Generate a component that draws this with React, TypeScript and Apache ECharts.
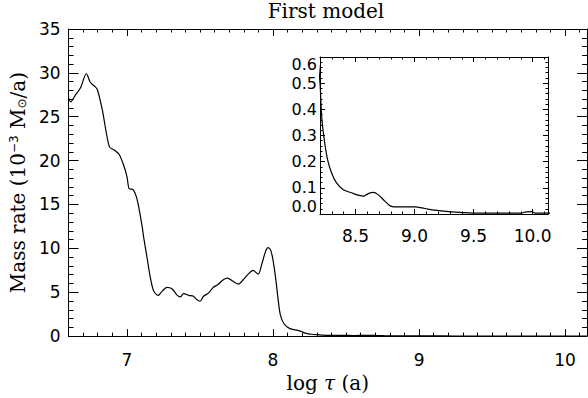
import React, { useEffect, useRef } from 'react';
import * as echarts from 'echarts';

// log tau (a)
const logTau = [
  6.600, 6.614, 6.648, 6.682, 6.722, 6.750, 6.777, 6.797, 6.831, 6.879,
  6.913, 6.947, 6.981, 7.001, 7.015, 7.042, 7.069, 7.103, 7.116, 7.138,
  7.161, 7.184, 7.213, 7.240, 7.274, 7.308, 7.342, 7.365, 7.388, 7.422,
  7.456, 7.478, 7.501, 7.524, 7.558, 7.592, 7.621, 7.660, 7.689, 7.721,
  7.762, 7.796, 7.830, 7.864, 7.898, 7.925, 7.948, 7.966, 7.984, 8.000,
  8.018, 8.034, 8.050, 8.075, 8.113, 8.170, 8.200, 8.214, 8.236, 8.264,
  8.298, 8.340, 8.397, 8.467, 8.523, 8.566, 8.608, 8.650, 8.692, 8.749,
  8.791, 8.833, 8.918, 9.002, 9.087, 9.171, 9.312, 9.453, 9.594, 9.763,
  9.903, 9.945, 9.988, 10.030, 10.150,
];

// mass rate (10^-3 Msun/a)
const massRate = [
  27.2, 26.7, 27.5, 28.3, 29.9, 28.9, 28.5, 28.1, 25.8, 21.6,
  21.2, 20.7, 19.3, 18.1, 16.8, 16.7, 15.6, 12.6, 11.1, 8.9,
  6.6, 5.1, 4.65, 5.1, 5.56, 5.4, 4.7, 4.46, 4.84, 4.65,
  4.54, 4.16, 3.97, 4.54, 4.9, 5.56, 5.85, 6.42, 6.6, 6.3,
  5.93, 6.42, 7.06, 7.48, 7.06, 8.3, 9.6, 10.08, 9.8, 8.68,
  6.6, 4.35, 2.46, 1.41, 0.88, 0.65, 0.5, 0.373, 0.284, 0.208,
  0.157, 0.119, 0.093, 0.081, 0.072, 0.068, 0.078, 0.083, 0.074, 0.049,
  0.032, 0.027, 0.027, 0.027, 0.021, 0.015, 0.008, 0.004, 0.003, 0.003,
  0.003, 0.008, 0.009, 0.003, 0.003,
];

const mainXTicks = [7, 8, 9, 10];
const insetXTicks = [8.5, 9.0, 9.5, 10.0];
const titleText = 'First model';
const xName = 'log {i|τ} (a)';
const yName = 'Mass rate (10{sup|−3} M{sub|⊙}/a)';

function tenthTicks(fromTenths: number, toTenths: number, majors: number[]) {
  const out: number[] = [];
  for (let i = fromTenths; i <= toTenths; i++) {
    const v = i / 10;
    if (!majors.some((m) => Math.abs(m - v) < 1e-9)) out.push(v);
  }
  return out;
}

const BLACK = '#000';
const lineStyle = { color: BLACK, width: 1 };
const labelFont = { fontFamily: 'DejaVu Sans', fontSize: 17, color: BLACK };
const insetLabelFont = { fontFamily: 'DejaVu Sans', fontSize: 16, lineHeight: 15, color: BLACK };

function xAx(opts: any) {
  return {
    type: 'value',
    splitLine: { show: false },
    axisLine: { show: false, onZero: false, lineStyle },
    axisLabel: { show: false },
    ...opts,
  };
}

export default function App() {
  const ref = useRef<HTMLDivElement>(null);
  useEffect(() => {
    if (!ref.current) return;
    const chart = echarts.init(ref.current, undefined, { renderer: 'svg' });
    const data = logTau.map((x, i) => [x, massRate[i]]);
    const mainMinor = tenthTicks(67, 101, mainXTicks);
    const insetMinor = tenthTicks(83, 101, insetXTicks);
    const mainX = { gridIndex: 0, min: 6.6, max: 10.15 };
    const insetX = { gridIndex: 1, min: 8.2, max: 10.13 };

    chart.setOption({
      animation: false,
      backgroundColor: '#fff',
      graphic: [
        {
          type: 'text',
          x: 326,
          y: 11,
          style: {
            text: titleText,
            fontFamily: 'DejaVu Serif',
            fontSize: 20,
            fill: BLACK,
            textAlign: 'center',
            textVerticalAlign: 'middle',
          },
        },
      ],
      grid: [
        { left: 66, right: 1, top: 29, bottom: 59, containLabel: false },
        { left: 320, width: 228, top: 57, height: 157, containLabel: false },
      ],
      xAxis: [
        xAx({
          ...mainX,
          position: 'bottom',
          axisLine: { show: true, onZero: false, lineStyle },
          axisTick: { show: true, inside: true, length: 7, customValues: mainXTicks, lineStyle },
          axisLabel: {
            show: true,
            customValues: mainXTicks,
            margin: 15,
            formatter: (v: number) => String(v),
            ...labelFont,
          },
          name: xName,
          nameLocation: 'middle',
          nameGap: 31,
          nameTextStyle: {
            fontFamily: 'DejaVu Serif',
            fontSize: 20,
            color: BLACK,
            rich: {
              i: { fontFamily: 'DejaVu Serif', fontStyle: 'italic', fontSize: 20, color: BLACK },
            },
          },
        }),
        xAx({
          ...mainX,
          position: 'bottom',
          axisTick: { show: true, inside: true, length: 3.5, customValues: mainMinor, lineStyle },
        }),
        xAx({
          ...mainX,
          position: 'top',
          axisLine: { show: true, onZero: false, lineStyle },
          axisTick: { show: true, inside: true, length: 7, customValues: mainXTicks, lineStyle },
        }),
        xAx({
          ...mainX,
          position: 'top',
          axisTick: { show: true, inside: true, length: 3.5, customValues: mainMinor, lineStyle },
        }),
        xAx({
          ...insetX,
          position: 'bottom',
          axisLine: { show: true, onZero: false, lineStyle },
          axisTick: { show: true, inside: true, length: 5, customValues: insetXTicks, lineStyle },
          axisLabel: {
            show: true,
            customValues: insetXTicks,
            margin: 13,
            formatter: (v: number) => v.toFixed(1),
            ...labelFont,
          },
        }),
        xAx({
          ...insetX,
          position: 'bottom',
          axisTick: { show: true, inside: true, length: 2.5, customValues: insetMinor, lineStyle },
        }),
        xAx({
          ...insetX,
          position: 'top',
          axisLine: { show: true, onZero: false, lineStyle },
          axisTick: { show: true, inside: true, length: 5, customValues: insetXTicks, lineStyle },
        }),
        xAx({
          ...insetX,
          position: 'top',
          axisTick: { show: true, inside: true, length: 2.5, customValues: insetMinor, lineStyle },
        }),
      ],
      yAxis: [
        {
          type: 'value',
          gridIndex: 0,
          position: 'left',
          min: 0,
          max: 35,
          interval: 5,
          splitLine: { show: false },
          axisLine: { show: true, onZero: false, lineStyle },
          axisTick: { show: true, inside: true, length: 10, lineStyle },
          minorTick: { show: true, splitNumber: 5, length: 5, lineStyle },
          axisLabel: { show: true, margin: 8, ...labelFont },
          name: yName,
          nameLocation: 'middle',
          nameGap: 38,
          nameTextStyle: {
            fontFamily: 'DejaVu Serif',
            fontSize: 20,
            color: BLACK,
            rich: {
              sup: { fontFamily: 'DejaVu Sans', fontSize: 12, color: BLACK, verticalAlign: 'top', lineHeight: 20 },
              sub: { fontFamily: 'DejaVu Sans', fontSize: 12, color: BLACK, verticalAlign: 'bottom', lineHeight: 20 },
            },
          },
        },
        {
          type: 'value',
          gridIndex: 0,
          position: 'right',
          min: 0,
          max: 35,
          interval: 5,
          splitLine: { show: false },
          axisLine: { show: true, onZero: false, lineStyle },
          axisTick: { show: true, inside: true, length: 10, lineStyle },
          minorTick: { show: true, splitNumber: 5, length: 5, lineStyle },
          axisLabel: { show: false },
        },
        {
          type: 'value',
          gridIndex: 1,
          position: 'left',
          min: 0,
          max: 0.6,
          interval: 0.1,
          splitLine: { show: false },
          axisLine: { show: true, onZero: false, lineStyle },
          axisTick: { show: true, inside: true, length: 5, lineStyle },
          minorTick: { show: true, splitNumber: 5, length: 2.5, lineStyle },
          axisLabel: {
            show: true,
            margin: 3,
            formatter: (v: number) => v.toFixed(1),
            verticalAlignMinLabel: 'bottom',
            verticalAlignMaxLabel: 'top',
            ...insetLabelFont,
          },
        },
        {
          type: 'value',
          gridIndex: 1,
          position: 'right',
          min: 0,
          max: 0.6,
          interval: 0.1,
          splitLine: { show: false },
          axisLine: { show: true, onZero: false, lineStyle },
          axisTick: { show: true, inside: true, length: 5, lineStyle },
          minorTick: { show: true, splitNumber: 5, length: 2.5, lineStyle },
          axisLabel: { show: false },
        },
      ],
      series: [
        {
          type: 'line',
          xAxisIndex: 0,
          yAxisIndex: 0,
          data,
          symbol: 'none',
          showSymbol: false,
          smooth: 0.3,
          clip: true,
          lineStyle: { color: BLACK, width: 1.2 },
        },
        {
          type: 'line',
          xAxisIndex: 4,
          yAxisIndex: 2,
          data,
          symbol: 'none',
          showSymbol: false,
          smooth: 0.3,
          clip: true,
          lineStyle: { color: BLACK, width: 1.2 },
        },
      ],
    });
    return () => chart.dispose();
  }, []);
  return (
    <div
      ref={ref}
      style={{ position: 'absolute', left: 0, top: 0, width: 588, height: 398, background: '#fff' }}
    />
  );
}
